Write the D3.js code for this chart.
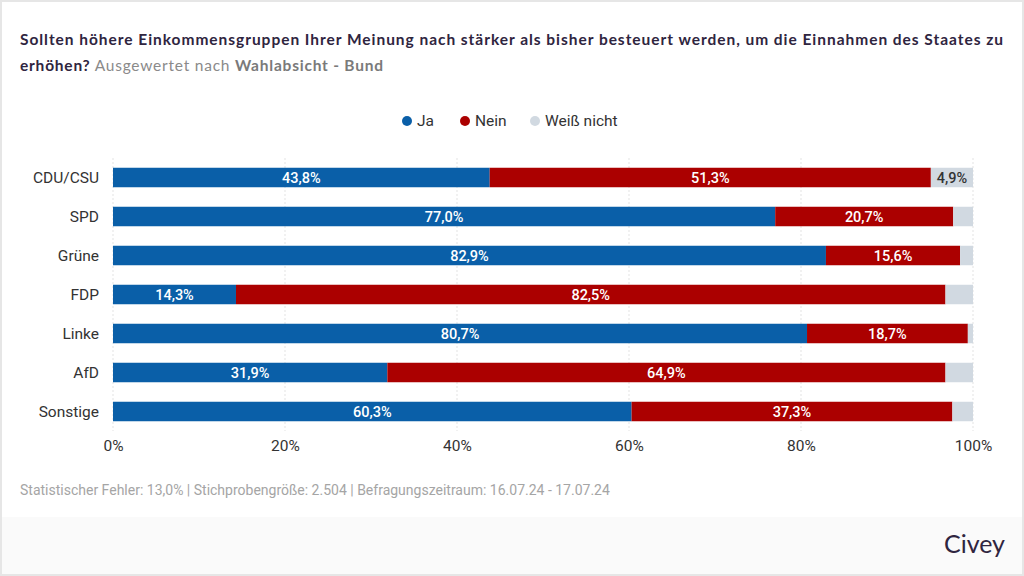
<!DOCTYPE html>
<html><head><meta charset="utf-8">
<script src="https://cdn.jsdelivr.net/npm/d3@7"></script>
<style>
html,body{margin:0;padding:0;background:#fff;}
svg{display:block;}
</style></head>
<body>
<svg id="c" width="1024" height="576"></svg>
<script>
const categories = ["CDU/CSU","SPD","Grüne","FDP","Linke","AfD","Sonstige"];
const seriesNames = ["Ja","Nein","Weiß nicht"];
const ja = [43.8,77.0,82.9,14.3,80.7,31.9,60.3];
const nein = [51.3,20.7,15.6,82.5,18.7,64.9,37.3];
const weissNicht = [4.9,2.3,1.5,3.2,0.6,3.2,2.4];
const ticks = [0,20,40,60,80,100];
const colors = ["#0a5fa8","#ab0000","#d1d9e1"];

const svg = d3.select("#c");
const W=1024,H=576;
svg.append("rect").attr("x",0).attr("y",0).attr("width",W).attr("height",H).attr("fill","#fff");
svg.append("rect").attr("x",1).attr("y",517).attr("width",W-2).attr("height",57).attr("fill","#fafafa");
svg.append("rect").attr("x",1).attr("y",1).attr("width",W-2).attr("height",H-2).attr("fill","none").attr("stroke","#e6e6e6").attr("stroke-width",2);

// title
const t1 = svg.append("text").attr("x",20).attr("y",45).attr("font-family","Lato, 'Open Sans', sans-serif").attr("font-weight",700).attr("font-size",15.5).attr("fill","#2f2540")
  .attr("textLength",983).attr("lengthAdjust","spacing");
t1.text("Sollten höhere Einkommensgruppen Ihrer Meinung nach stärker als bisher besteuert werden, um die Einnahmen des Staates zu");
const t2 = svg.append("text").attr("x",20).attr("y",71).attr("font-family","Lato, 'Open Sans', sans-serif").attr("font-size",15.5)
  .attr("textLength",363).attr("lengthAdjust","spacing");
t2.append("tspan").attr("font-weight",700).attr("fill","#2f2540").text("erhöhen?");
t2.append("tspan").attr("fill","#8a8a8a").attr("font-weight",400).text(" Ausgewertet nach ");
t2.append("tspan").attr("fill","#7a7a7a").attr("font-weight",700).text("Wahlabsicht - Bund");

// scales
const x = d3.scaleLinear().domain([0,100]).range([113,973]);
const y = d3.scaleBand().domain(categories).range([158,431]).paddingInner(0.5).paddingOuter(0.25);

// grid
svg.append("g").selectAll("line").data(ticks).join("line")
  .attr("x1",d=>x(d)).attr("x2",d=>x(d)).attr("y1",158).attr("y2",431)
  .attr("stroke","#e3e3e3").attr("stroke-dasharray","2,2");

// legend
const legend = svg.append("g").attr("font-family","Roboto, sans-serif").attr("font-size",15.5).attr("fill","#333");
const legX=[407,465,535];
seriesNames.forEach((n,i)=>{
  const g = legend.append("g").attr("transform",`translate(${legX[i]},121)`);
  g.append("circle").attr("r",5).attr("fill",colors[i]);
  g.append("text").attr("x",10).attr("dy","0.35em").attr("fill","#333").text(n);
});

// data stacking
const rows = categories.map((c,i)=>({cat:c, "Ja":ja[i], "Nein":nein[i], "Weiß nicht":weissNicht[i]}));
const stack = d3.stack().keys(seriesNames)(rows);
const bh = y.bandwidth();
stack.forEach((s,si)=>{
  const g = svg.append("g");
  g.selectAll("rect").data(s).join("rect")
    .attr("x",d=>x(d[0])).attr("y",d=>y(d.data.cat))
    .attr("width",d=>x(d[1])-x(d[0])).attr("height",bh)
    .attr("fill",colors[si]);
  g.selectAll("text").data(s.filter(d=>d[1]-d[0]>=4)).join("text")
    .attr("x",d=>(x(d[0])+x(d[1]))/2).attr("y",d=>y(d.data.cat)+bh/2)
    .attr("dy","0.36em").attr("text-anchor","middle")
    .attr("font-family","Roboto, sans-serif").attr("font-weight",500).attr("font-size",14.5)
    .attr("fill",si===2?"#333":"#fff")
    .text(d=>(d[1]-d[0]).toFixed(1).replace(".",",")+"%");
});

// y axis labels
svg.append("g").selectAll("text").data(categories).join("text")
  .attr("x",99).attr("y",d=>y(d)+bh/2).attr("dy","0.36em").attr("text-anchor","end")
  .attr("font-family","Roboto, sans-serif").attr("font-size",15.5).attr("fill","#333").text(d=>d);

// x axis
const xa = svg.append("g").attr("transform","translate(0,431)")
  .call(d3.axisBottom(x).tickValues(ticks).tickSize(0).tickPadding(9).tickFormat(d=>d+"%"));
xa.select(".domain").remove();
xa.selectAll("text").attr("font-family","Roboto, sans-serif").attr("font-size",15.5).attr("fill","#333");

// footer
svg.append("text").attr("x",20).attr("y",495).attr("font-family","Roboto, sans-serif").attr("font-size",14).attr("fill","#a5a5a5")
  .text("Statistischer Fehler: 13,0% | Stichprobengröße: 2.504 | Befragungszeitraum: 16.07.24 - 17.07.24");
svg.append("text").attr("x",1005).attr("y",553).attr("text-anchor","end").attr("font-family","Lato, sans-serif").attr("font-size",25).attr("fill","#2f2540").text("Civey");
</script>
</body></html>
